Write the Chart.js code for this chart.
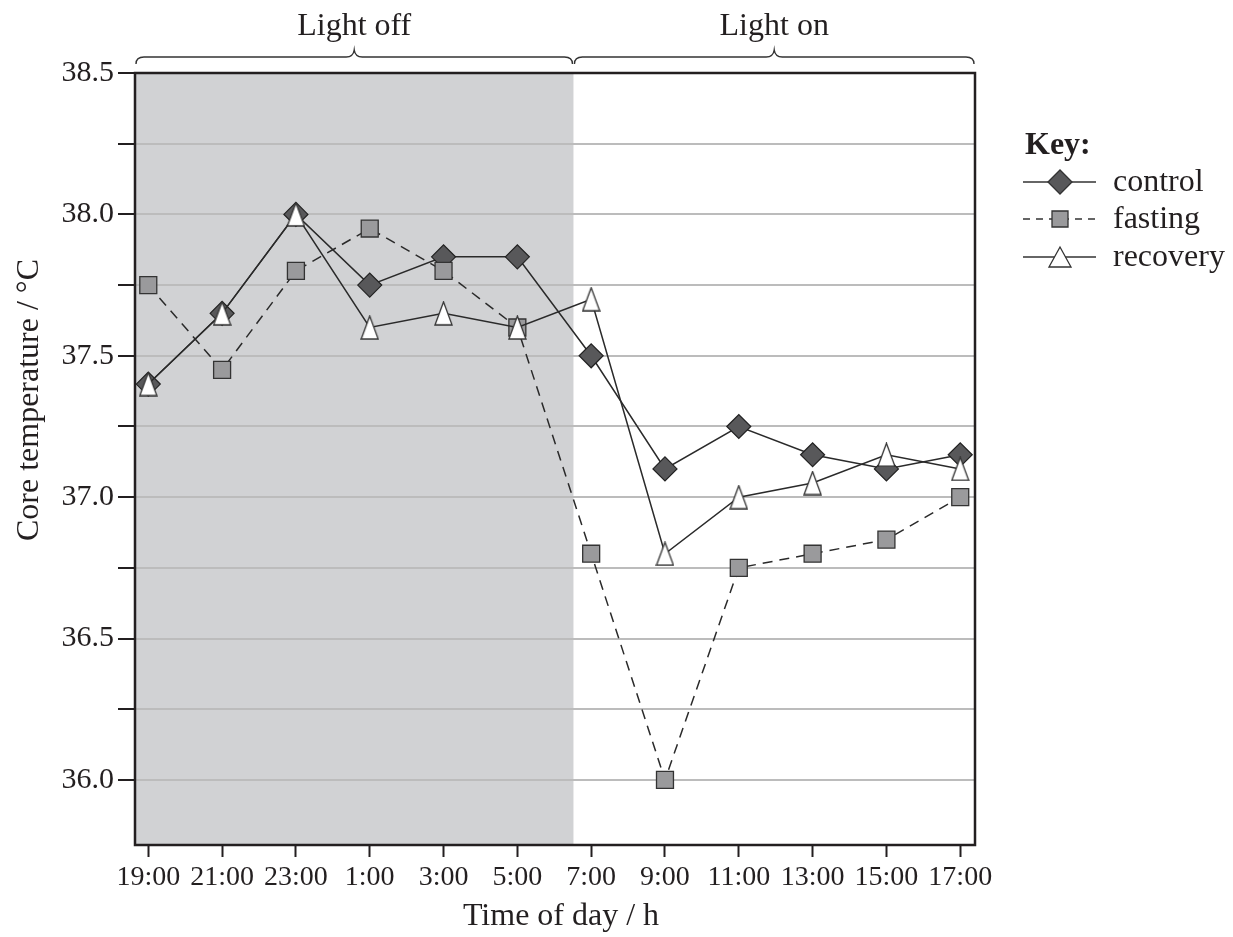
<!DOCTYPE html>
<html>
<head>
<meta charset="utf-8">
<title>Core temperature</title>
<script src="https://cdn.jsdelivr.net/npm/chart.js@4.4.1/dist/chart.umd.min.js"></script>
<style>
  html, body { margin: 0; padding: 0; background: #fff; }
  #wrap { width: 1233px; height: 937px; }
</style>
</head>
<body>
<div id="wrap"><canvas id="tempChart" width="1233" height="937"></canvas></div>
<script>
// Chart data
const timeLabels = ['19:00', '21:00', '23:00', '1:00', '3:00', '5:00', '7:00', '9:00', '11:00', '13:00', '15:00', '17:00'];
const controlTemps = [37.40, 37.65, 38.00, 37.75, 37.85, 37.85, 37.50, 37.10, 37.25, 37.15, 37.10, 37.15];
const fastingTemps = [37.75, 37.45, 37.80, 37.95, 37.80, 37.60, 36.80, 36.00, 36.75, 36.80, 36.85, 37.00];
const recoveryTemps = [37.40, 37.65, 38.00, 37.60, 37.65, 37.60, 37.70, 36.80, 37.00, 37.05, 37.15, 37.10];
const yTickValues = [36.0, 36.25, 36.5, 36.75, 37.0, 37.25, 37.5, 37.75, 38.0, 38.25, 38.5];
const phaseLabels = ['Light off', 'Light on'];
const lightOffEnd = 5.76; // x position where the dark phase ends
const legendLabels = ['control', 'fasting', 'recovery'];

const FONT = '"Liberation Serif", "Times New Roman", serif';
const INK = '#231f20';

// Triangle marker as a small canvas (taller than wide, like the original)
function makeTriangle(w, h) {
    const c = document.createElement('canvas');
    c.width = w + 2;
    c.height = h + 2;
    const g = c.getContext('2d');
    g.beginPath();
    g.moveTo(1, h + 1);
    g.lineTo(w / 2 + 1, 1);
    g.lineTo(w + 1, h + 1);
    g.closePath();
    g.fillStyle = '#fff';
    g.fill();
    g.lineWidth = 1.3;
    g.strokeStyle = '#333';
    g.stroke();
    return c;
}
const triangleMarker = makeTriangle(17, 23);

function toPoints(values) {
    return values.map((v, i) => ({ x: i, y: v }));
}

// Shading, frame, braces, titles and key
const decorPlugin = {
    id: 'decor',
    beforeDraw(chart) {
        const { ctx, chartArea, scales } = chart;
        const xEnd = scales.x.getPixelForValue(lightOffEnd);
        ctx.save();
        ctx.fillStyle = '#d1d2d4';
        ctx.fillRect(chartArea.left, chartArea.top, xEnd - chartArea.left, chartArea.bottom - chartArea.top);
        ctx.restore();
    },
    beforeDatasetsDraw(chart) {
        const { ctx, chartArea } = chart;
        ctx.save();
        ctx.strokeStyle = INK;
        ctx.lineWidth = 2.5;
        ctx.strokeRect(chartArea.left, chartArea.top, chartArea.right - chartArea.left, chartArea.bottom - chartArea.top);
        ctx.restore();
    },
    afterDraw(chart) {
        const { ctx, chartArea, scales } = chart;
        const xEnd = scales.x.getPixelForValue(lightOffEnd);
        ctx.save();

        // curly braces above the plot
        const spans = [[chartArea.left, xEnd], [xEnd, chartArea.right]];
        ctx.strokeStyle = '#333';
        ctx.lineWidth = 1.4;
        spans.forEach(([a, b], k) => {
            const mid = (a + b) / 2;
            const yl = 57, yEnd = 64, yTip = 50;
            ctx.beginPath();
            ctx.moveTo(a + 1, yEnd);
            ctx.quadraticCurveTo(a + 1, yl, a + 9, yl);
            ctx.lineTo(mid - 8, yl);
            ctx.quadraticCurveTo(mid - 1, yl, mid, yTip);
            ctx.quadraticCurveTo(mid + 1, yl, mid + 8, yl);
            ctx.lineTo(b - 9, yl);
            ctx.quadraticCurveTo(b - 1, yl, b - 1, yEnd);
            ctx.stroke();

            ctx.fillStyle = INK;
            ctx.font = '32px ' + FONT;
            ctx.textAlign = 'center';
            ctx.textBaseline = 'middle';
            ctx.fillText(phaseLabels[k], mid, 27);
        });

        // axis titles
        ctx.fillStyle = INK;
        ctx.font = '32px ' + FONT;
        ctx.textAlign = 'center';
        ctx.textBaseline = 'middle';
        ctx.fillText('Time of day / h', 561, 917);
        ctx.save();
        ctx.translate(30, 400);
        ctx.rotate(-Math.PI / 2);
        ctx.fillText('Core temperature / \u00B0C', 0, 0);
        ctx.restore();

        // key
        ctx.textAlign = 'left';
        ctx.font = 'bold 32px ' + FONT;
        ctx.fillText('Key:', 1025, 146);
        ctx.font = '32px ' + FONT;
        const rows = [182, 219, 257];
        const x0 = 1023, x1 = 1096, xm = 1060;
        rows.forEach((y, k) => {
            ctx.strokeStyle = '#333';
            ctx.lineWidth = 1.4;
            ctx.setLineDash(k === 1 ? [7, 6] : []);
            ctx.beginPath();
            ctx.moveTo(x0, y);
            ctx.lineTo(x1, y);
            ctx.stroke();
            ctx.setLineDash([]);
            ctx.beginPath();
            if (k === 0) {
                ctx.moveTo(xm - 12, y);
                ctx.lineTo(xm, y - 12);
                ctx.lineTo(xm + 12, y);
                ctx.lineTo(xm, y + 12);
                ctx.closePath();
                ctx.fillStyle = '#58585a';
            } else if (k === 1) {
                ctx.rect(xm - 8, y - 8, 16, 16);
                ctx.fillStyle = '#9a9a9c';
            } else {
                ctx.moveTo(xm - 11, y + 10);
                ctx.lineTo(xm, y - 10);
                ctx.lineTo(xm + 11, y + 10);
                ctx.closePath();
                ctx.fillStyle = '#fff';
            }
            ctx.fill();
            ctx.lineWidth = 1.3;
            ctx.stroke();
            ctx.fillStyle = INK;
            ctx.fillText(legendLabels[k], 1113, y + 1);
        });
        ctx.restore();
    }
};

const ctx = document.getElementById('tempChart').getContext('2d');
new Chart(ctx, {
    type: 'line',
    data: {
        datasets: [
            {
                label: 'recovery',
                data: toPoints(recoveryTemps),
                borderColor: '#2a2a2a',
                borderWidth: 1.5,
                pointStyle: triangleMarker,
                tension: 0
            },
            {
                label: 'fasting',
                data: toPoints(fastingTemps),
                borderColor: '#2a2a2a',
                borderWidth: 1.5,
                borderDash: [10, 7],
                pointStyle: 'rect',
                pointRadius: 12,
                pointBackgroundColor: '#9a9a9c',
                pointBorderColor: '#333',
                pointBorderWidth: 1.3,
                tension: 0
            },
            {
                label: 'control',
                data: toPoints(controlTemps),
                borderColor: '#2a2a2a',
                borderWidth: 1.5,
                pointStyle: 'rectRot',
                pointRadius: 12,
                pointBackgroundColor: '#58585a',
                pointBorderColor: '#222',
                pointBorderWidth: 1.2,
                tension: 0
            }
        ]
    },
    options: {
        responsive: false,
        animation: false,
        events: [],
        layout: { padding: { top: 73, right: 258, left: 0, bottom: 0 } },
        plugins: {
            legend: { display: false },
            tooltip: { enabled: false }
        },
        scales: {
            x: {
                type: 'linear',
                min: -0.18,
                max: 11.2,
                afterFit(scale) { scale.height = 92; },
                afterBuildTicks(scale) {
                    scale.ticks = timeLabels.map((t, i) => ({ value: i }));
                },
                ticks: {
                    autoSkip: false,
                    maxRotation: 0,
                    padding: 4,
                    color: INK,
                    font: { family: FONT, size: 28 },
                    callback: (v) => timeLabels[v]
                },
                grid: {
                    drawOnChartArea: false,
                    tickLength: 12,
                    tickColor: INK,
                    tickWidth: 2
                },
                border: { display: false }
            },
            y: {
                min: 35.77,
                max: 38.5,
                afterFit(scale) { scale.width = 135; },
                afterBuildTicks(scale) {
                    scale.ticks = yTickValues.map(v => ({ value: v }));
                },
                ticks: {
                    padding: 4,
                    color: INK,
                    font: { family: FONT, size: 30 },
                    callback: (v) => (Math.abs(v * 2 - Math.round(v * 2)) < 1e-6 ? v.toFixed(1) : '')
                },
                grid: {
                    color: '#bcbcbc',
                    lineWidth: 2,
                    tickLength: 17,
                    tickColor: INK,
                    tickWidth: 2
                },
                border: { display: false }
            }
        }
    },
    plugins: [decorPlugin]
});
</script>
</body>
</html>
